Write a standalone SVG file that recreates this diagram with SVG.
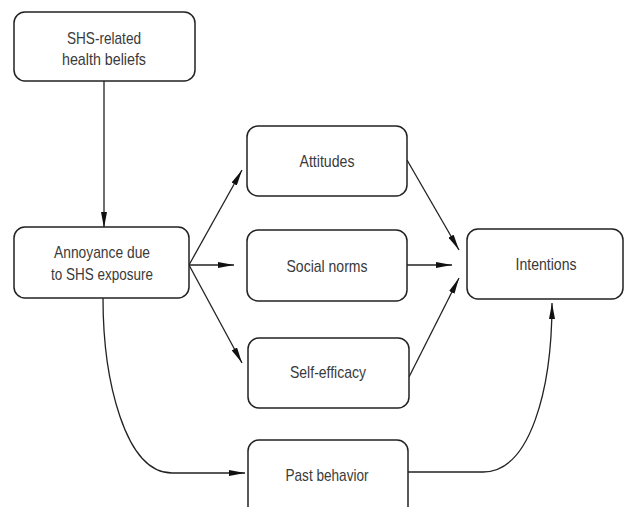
<svg xmlns="http://www.w3.org/2000/svg" width="625" height="507" viewBox="0 0 625 507">
<style>
.box{fill:#fff;stroke:#222;stroke-width:1.5}
.lbl{font-family:"Liberation Sans",Arial,sans-serif;font-size:17px;fill:#3a3a3a;text-anchor:middle}
.edge{fill:none;stroke:#222;stroke-width:1.3}
</style>
<defs>
<marker id="ah" viewBox="0 0 16 6" refX="16" refY="3" markerWidth="16" markerHeight="6" markerUnits="userSpaceOnUse" orient="auto">
<path d="M0,0 L16,3 L0,6 Z" fill="#111"/>
</marker>
</defs>
<rect width="625" height="507" fill="#fff"/>
<g id="connectors">
<path class="edge" d="M104,81 L104,228" marker-end="url(#ah)"/>
<path class="edge" d="M189,265 L242,170" marker-end="url(#ah)"/>
<path class="edge" d="M189,265 L234,265" marker-end="url(#ah)"/>
<path class="edge" d="M189,265 L242,363" marker-end="url(#ah)"/>
<path class="edge" d="M407,160 L459,250" marker-end="url(#ah)"/>
<path class="edge" d="M407,265 L452,265" marker-end="url(#ah)"/>
<path class="edge" d="M409,377 L459,278" marker-end="url(#ah)"/>
<path class="edge" d="M103,298 C103,380 125,473 172,473 L245,473" marker-end="url(#ah)"/>
<path class="edge" d="M408,472 L483,472 C530,472 552,390 552,303" marker-end="url(#ah)"/>
</g>
<g id="n-beliefs">
<rect class="box" x="14" y="12" width="181" height="69" rx="11"/>
<text class="lbl" x="104" y="44" textLength="74" lengthAdjust="spacingAndGlyphs">SHS-related</text>
<text class="lbl" x="104" y="65" textLength="84" lengthAdjust="spacingAndGlyphs">health beliefs</text>
</g>
<g id="n-annoyance">
<rect class="box" x="14" y="227" width="175" height="71" rx="11"/>
<text class="lbl" x="102" y="258" textLength="96" lengthAdjust="spacingAndGlyphs">Annoyance due</text>
<text class="lbl" x="102" y="280" textLength="102" lengthAdjust="spacingAndGlyphs">to SHS exposure</text>
</g>
<g id="n-attitudes">
<rect class="box" x="247" y="126" width="160" height="70" rx="11"/>
<text class="lbl" x="327" y="167" textLength="55" lengthAdjust="spacingAndGlyphs">Attitudes</text>
</g>
<g id="n-norms">
<rect class="box" x="247" y="230" width="160" height="71" rx="11"/>
<text class="lbl" x="327" y="272" textLength="81" lengthAdjust="spacingAndGlyphs">Social norms</text>
</g>
<g id="n-efficacy">
<rect class="box" x="248" y="338" width="161" height="70" rx="11"/>
<text class="lbl" x="328" y="378" textLength="76" lengthAdjust="spacingAndGlyphs">Self-efficacy</text>
</g>
<g id="n-intentions">
<rect class="box" x="467" y="229" width="156" height="70" rx="11"/>
<text class="lbl" x="546" y="270" textLength="61" lengthAdjust="spacingAndGlyphs">Intentions</text>
</g>
<g id="n-past">
<rect class="box" x="248" y="440" width="160" height="80" rx="11"/>
<text class="lbl" x="327" y="481" textLength="83" lengthAdjust="spacingAndGlyphs">Past behavior</text>
</g>
</svg>
